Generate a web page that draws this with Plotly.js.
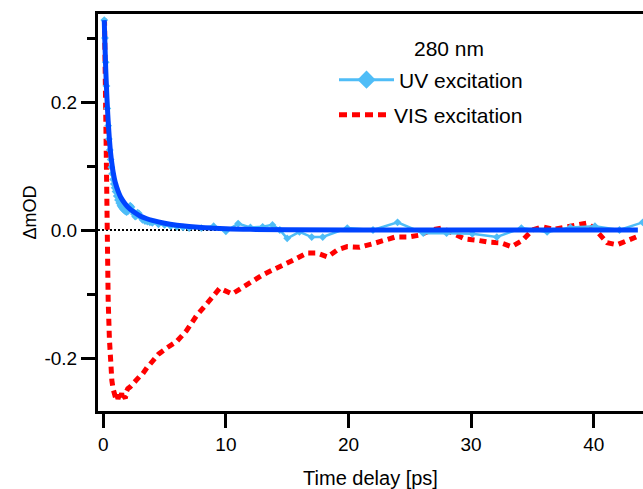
<!DOCTYPE html>
<html>
<head>
<meta charset="utf-8">
<script src="https://cdn.plot.ly/plotly-3.0.1.min.js"></script>
<style>
html,body{margin:0;padding:0;overflow:hidden;background:#fff;}
#chart{width:643px;height:489px;}
</style>
</head>
<body>
<div id="chart"></div>
<script>
// UV excitation data (280 nm probe)
const uvTime = [0.08,0.14,0.2,0.26,0.33,0.4,0.46,0.53,0.6,0.66,0.73,0.8,0.86,0.93,1.0,1.1,1.2,1.3,1.4,1.5,1.6,1.7,1.8,1.9,2.0,2.1,2.2,2.3,2.4,2.5,2.6,2.7,2.8,2.9,3.0,3.2,3.4,3.6,3.8,4.0,4.5,5.0,5.5,6.0,6.5,7.0,8.0,9.0,10.0,11.0,12.0,13.0,13.8,14.4,15.0,16.0,17.0,17.9,19.9,22.0,24.0,26.1,28.0,30.1,32.1,34.1,36.2,38.1,40.1,42.1,44.0];
const uvVal = [0.328,0.30,0.262,0.225,0.19,0.163,0.142,0.125,0.11,0.098,0.088,0.079,0.072,0.066,0.06,0.053,0.047,0.042,0.038,0.035,0.033,0.031,0.029,0.028,0.029,0.033,0.038,0.036,0.03,0.025,0.021,0.022,0.027,0.026,0.021,0.016,0.014,0.013,0.012,0.011,0.009,0.008,0.006,0.005,0.004,0.003,0.003,0.006,-0.002,0.010,0.004,0.005,0.008,0.0,-0.013,-0.003,-0.011,-0.011,0.003,0.0,0.012,-0.005,-0.005,-0.006,-0.011,0.003,-0.003,0.004,0.006,0.0,0.012];

// Fit of UV data
const fitTime = [0.08,0.12,0.16,0.2,0.25,0.3,0.35,0.4,0.5,0.6,0.7,0.8,0.9,1.0,1.2,1.4,1.7,2.0,2.5,3.0,3.5,4.0,5.0,6.0,7.0,8.0,10,12,15,20,30,43.6];
const fitVal = [0.328,0.30,0.275,0.252,0.228,0.206,0.187,0.17,0.142,0.12,0.104,0.091,0.081,0.073,0.061,0.052,0.043,0.036,0.028,0.022,0.018,0.015,0.0105,0.0075,0.0055,0.004,0.002,0.001,0.0005,0.0002,0.0,0.0];

// VIS excitation data
const visTime = [0.1,0.2,0.3,0.4,0.5,0.6,0.7,0.8,0.9,1.0,1.1,1.2,1.3,1.4,1.5,1.6,1.7,1.8,1.9,2.0,2.2,2.4,2.6,2.8,3.0,3.2,3.4,3.6,3.8,4.0,4.5,5.2,6.0,6.8,7.6,8.5,9.5,10.5,11.4,12.2,13.0,13.8,14.7,15.5,16.6,17.4,18.3,19.1,19.9,20.9,21.9,22.8,23.8,24.9,25.8,26.8,27.6,28.5,29.5,30.5,31.4,32.4,33.3,34.2,35.0,35.8,36.7,37.8,38.7,39.5,40.3,41.1,41.9,42.8,43.7];
const visVal = [0.33,0.12,-0.01,-0.11,-0.17,-0.21,-0.235,-0.248,-0.255,-0.262,-0.256,-0.264,-0.258,-0.262,-0.255,-0.265,-0.26,-0.263,-0.252,-0.248,-0.245,-0.24,-0.236,-0.232,-0.228,-0.225,-0.218,-0.214,-0.21,-0.205,-0.194,-0.184,-0.174,-0.157,-0.134,-0.114,-0.091,-0.1,-0.089,-0.078,-0.07,-0.0625,-0.055,-0.047,-0.036,-0.036,-0.042,-0.031,-0.026,-0.027,-0.022,-0.016,-0.011,-0.011,-0.008,0.0,0.003,-0.005,-0.014,-0.016,-0.019,-0.02,-0.026,-0.016,0.0,0.005,0.001,0.005,0.009,0.011,-0.003,-0.02,-0.023,-0.016,-0.009];

// Tick labels
const xTickVals = [0, 10, 20, 30, 40];
const xTickText = ["0", "10", "20", "30", "40"];
const yTickVals = [-0.2, 0.0, 0.2];
const yTickText = ["-0.2", "0.0", "0.2"];

const legendTitle = "280 nm";
const uvName = "UV excitation";
const visName = "VIS excitation";

const FONT = "Liberation Sans, Arial, Helvetica, sans-serif";
const LIGHT = "#4fbdf7";
const DARK = "#0044ff";
const RED = "#ff0000";

const traces = [
  {x: visTime, y: visVal, mode: "lines", line: {color: RED, width: 5, dash: "7px,5px"}, showlegend: false, hoverinfo: "skip"},
  {x: uvTime, y: uvVal, mode: "lines+markers", line: {color: LIGHT, width: 2.5}, marker: {symbol: "diamond", size: 6, color: LIGHT}, showlegend: false},
  {x: fitTime, y: fitVal, mode: "lines", line: {color: DARK, width: 5, shape: "spline"}, showlegend: false},
  {x: [null], y: [null], name: uvName, mode: "lines+markers", line: {color: LIGHT, width: 3}, marker: {symbol: "diamond", size: 14, color: LIGHT}, legend: "legend"},
  {x: [null], y: [null], name: visName, mode: "lines", line: {color: RED, width: 5, dash: "8px,5px"}, legend: "legend2"}
];

const layout = {
  width: 643, height: 489,
  margin: {l: 98, r: 0, t: 14, b: 78},
  paper_bgcolor: "#fff", plot_bgcolor: "#fff",
  font: {family: FONT, size: 19, color: "#000"},
  xaxis: {
    range: [-0.43, 44.02],
    tickmode: "array", tickvals: xTickVals, ticktext: xTickText,
    ticks: "outside", ticklen: 14, tickwidth: 3, tickcolor: "#000",
    showline: true, linewidth: 3, linecolor: "#000", mirror: true,
    showgrid: false, zeroline: false,
    tickfont: {size: 19},
    title: {text: "Time delay [ps]", font: {size: 20}, standoff: 24}
  },
  yaxis: {
    range: [-0.2828, 0.3375],
    tickmode: "array", tickvals: yTickVals, ticktext: yTickText,
    ticks: "outside", ticklen: 14, tickwidth: 3, tickcolor: "#000",
    minor: {tickmode: "array", tickvals: [-0.1, 0.1, 0.3], ticks: "outside", ticklen: 8, tickwidth: 3, tickcolor: "#000"},
    showline: true, linewidth: 3, linecolor: "#000",
    showgrid: false, zeroline: false,
    tickfont: {size: 19},
    title: {text: "ΔmOD", font: {size: 18}, standoff: 4}
  },
  shapes: [
    {type: "line", xref: "paper", yref: "y", x0: 0, x1: 0.987, y0: 0, y1: 0, layer: "below", line: {color: "#000", width: 2, dash: "2px,2px"}}
  ],
  annotations: [
    {text: legendTitle, xref: "paper", yref: "paper", x: (449-98)/545, y: (411-48)/397, xanchor: "center", yanchor: "middle", showarrow: false, font: {size: 21}}
  ],
  legend: {x: (334-98)/545, y: (411-80)/397, xanchor: "left", yanchor: "middle", bgcolor: "rgba(0,0,0,0)", font: {size: 21}, itemwidth: 55},
  legend2: {x: (334-98)/545, y: (411-115)/397, xanchor: "left", yanchor: "middle", bgcolor: "rgba(0,0,0,0)", font: {size: 21}, itemwidth: 50}
};

Plotly.newPlot("chart", traces, layout, {displayModeBar: false, staticPlot: true});
</script>
</body>
</html>
